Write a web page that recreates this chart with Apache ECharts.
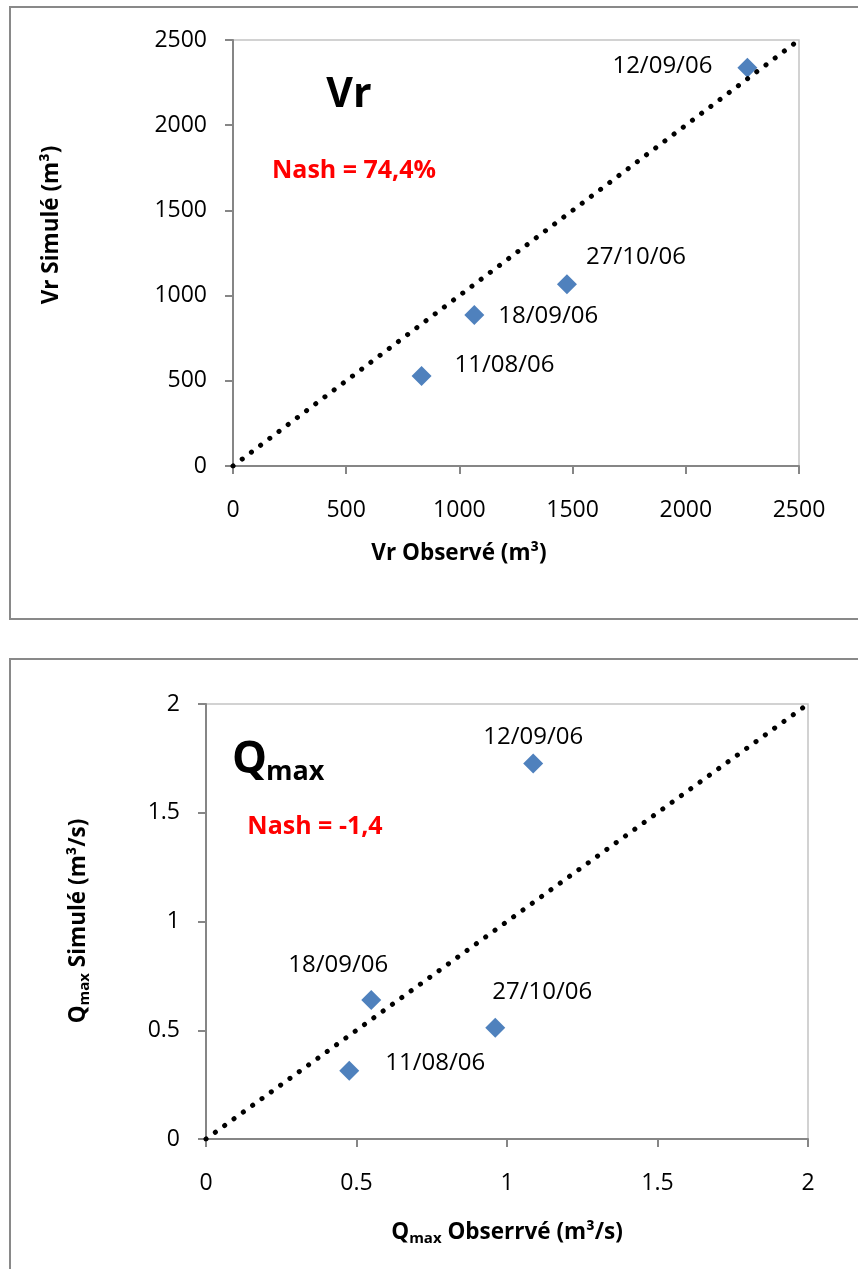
<!DOCTYPE html>
<html>
<head>
<meta charset="utf-8">
<script src="https://cdn.jsdelivr.net/npm/echarts@6/dist/echarts.min.js"></script>
<style>
html,body{margin:0;padding:0;background:#fff;}
#chart{width:858px;height:1269px;}
</style>
</head>
<body>
<div id="chart"></div>
<script>
// ---- data ----
const dates = ['11/08/06', '18/09/06', '27/10/06', '12/09/06'];
const vrObserved = [833, 1066, 1475, 2272];
const vrSimulated = [528, 886, 1066, 2337];
const qObserved = [0.476, 0.549, 0.961, 1.087];
const qSimulated = [0.314, 0.639, 0.511, 1.726];
const vrAxisMax = 2500, vrAxisStep = 500;
const qAxisMax = 2, qAxisStep = 0.5;
const vrNash = 'Nash = 74,4%';
const qNash = 'Nash = -1,4';

// ---- layout (label offsets from marker centre, px) ----
const vrLabelOffsets = [[83, -11], [74, 1], [69, -27], [-85, -2]];
const qLabelOffsets = [[86, -8], [-33, -35], [47, -36], [0, -26]];

const FONT = '"Open Sans", "Noto Sans", sans-serif';
const AXIS_GRAY = '#868686';

function pts(xs, ys, offs) {
  return xs.map((x, i) => ({
    value: [x, ys[i]],
    name: dates[i],
    label: { offset: offs[i] }
  }));
}

function axis(gridIndex, max, step) {
  return {
    type: 'value', gridIndex, min: 0, max, interval: step,
    splitLine: { show: false },
    axisLine: { show: true, onZero: false, lineStyle: { color: AXIS_GRAY, width: 2 } },
    axisTick: { show: true, length: 8, lineStyle: { color: AXIS_GRAY, width: 2 } },
    axisLabel: { color: '#000', fontSize: 23, fontFamily: FONT, margin: 26,
      formatter: v => String(v) }
  };
}

const chart = echarts.init(document.getElementById('chart'), null, { renderer: 'canvas' });

const xA0 = axis(0, vrAxisMax, vrAxisStep); xA0.axisLabel.margin = 33;
const xA1 = axis(1, qAxisMax, qAxisStep); xA1.axisLabel.margin = 33;

const scatterStyle = {
  type: 'scatter', symbol: 'diamond', symbolSize: 20,
  itemStyle: { color: '#4F81BD', opacity: 1 },
  label: {
    show: true, position: 'inside', formatter: '{b}',
    color: '#000', fontSize: 24, fontFamily: FONT, opacity: 1
  },
  emphasis: { disabled: true }
};

const dotLine = {
  type: 'line', symbol: 'none', silent: true,
  lineStyle: { color: '#000', width: 5, type: [0.1, 11.4], cap: 'round' }
};

const titleRich = {
  n: { fontSize: 22.5, fontWeight: 'bold', fontFamily: FONT, color: '#000', lineHeight: 25, padding: [0, 0, 3, 0] },
  s: { fontSize: 15, fontWeight: 'bold', fontFamily: FONT, color: '#000', lineHeight: 15, verticalAlign: 'bottom' }
};

const borderStyle = { stroke: '#898989', lineWidth: 2, fill: null };

chart.setOption({
  animation: false,
  backgroundColor: '#fff',
  grid: [
    { left: 233, top: 40, width: 566, height: 426, show: true, borderColor: '#C4C4C4', borderWidth: 1.5 },
    { left: 206, top: 704, width: 602, height: 435, show: true, borderColor: '#C4C4C4', borderWidth: 1.5 }
  ],
  xAxis: [xA0, xA1],
  yAxis: [axis(0, vrAxisMax, vrAxisStep), axis(1, qAxisMax, qAxisStep)],
  series: [
    Object.assign({}, scatterStyle, { xAxisIndex: 0, yAxisIndex: 0, data: pts(vrObserved, vrSimulated, vrLabelOffsets) }),
    Object.assign({}, dotLine, { xAxisIndex: 0, yAxisIndex: 0, data: [[0, 0], [vrAxisMax, vrAxisMax]] }),
    Object.assign({}, scatterStyle, { xAxisIndex: 1, yAxisIndex: 1, data: pts(qObserved, qSimulated, qLabelOffsets) }),
    Object.assign({}, dotLine, { xAxisIndex: 1, yAxisIndex: 1, data: [[0, 0], [qAxisMax, qAxisMax]] })
  ],
  graphic: [
    // outer frames
    { type: 'polyline', shape: { points: [[870, 7], [10, 7], [10, 619], [870, 619]] }, style: borderStyle, silent: true },
    { type: 'polyline', shape: { points: [[870, 659], [10, 659], [10, 1280]] }, style: borderStyle, silent: true },
    // top chart annotations
    { type: 'text', x: 349, y: 95, silent: true,
      style: { text: 'Vr', font: 'bold 41px ' + FONT, fill: '#000', align: 'center', verticalAlign: 'middle' } },
    { type: 'text', x: 354, y: 171, silent: true,
      style: { text: vrNash, font: 'bold 25px ' + FONT, fill: '#FF0000', align: 'center', verticalAlign: 'middle' } },
    { type: 'text', x: 459, y: 555, silent: true,
      style: { text: '{n|Vr Observé (m³)}', rich: titleRich, align: 'center', verticalAlign: 'middle' } },
    { type: 'text', x: 53, y: 225, rotation: Math.PI / 2, silent: true,
      style: { text: '{n|Vr Simulé (m³)}', rich: titleRich, align: 'center', verticalAlign: 'middle' } },
    // bottom chart annotations
    { type: 'text', x: 232, y: 738, silent: true,
      style: { text: 'Q', font: 'bold 44px ' + FONT, fill: '#000', align: 'left', verticalAlign: 'top' } },
    { type: 'text', x: 266, y: 759, silent: true,
      style: { text: 'max', font: 'bold 27px ' + FONT, fill: '#000', align: 'left', verticalAlign: 'top' } },
    { type: 'text', x: 315, y: 827, silent: true,
      style: { text: qNash, font: 'bold 25px ' + FONT, fill: '#FF0000', align: 'center', verticalAlign: 'middle' } },
    { type: 'text', x: 507, y: 1234, silent: true,
      style: { text: '{n|Q}{s|max}{n| Obserrvé (m³/s)}', rich: titleRich, align: 'center', verticalAlign: 'middle' } },
    { type: 'text', x: 80, y: 921, rotation: Math.PI / 2, silent: true,
      style: { text: '{n|Q}{s|max}{n| Simulé (m³/s)}', rich: titleRich, align: 'center', verticalAlign: 'middle' } }
  ]
});
</script>
</body>
</html>
